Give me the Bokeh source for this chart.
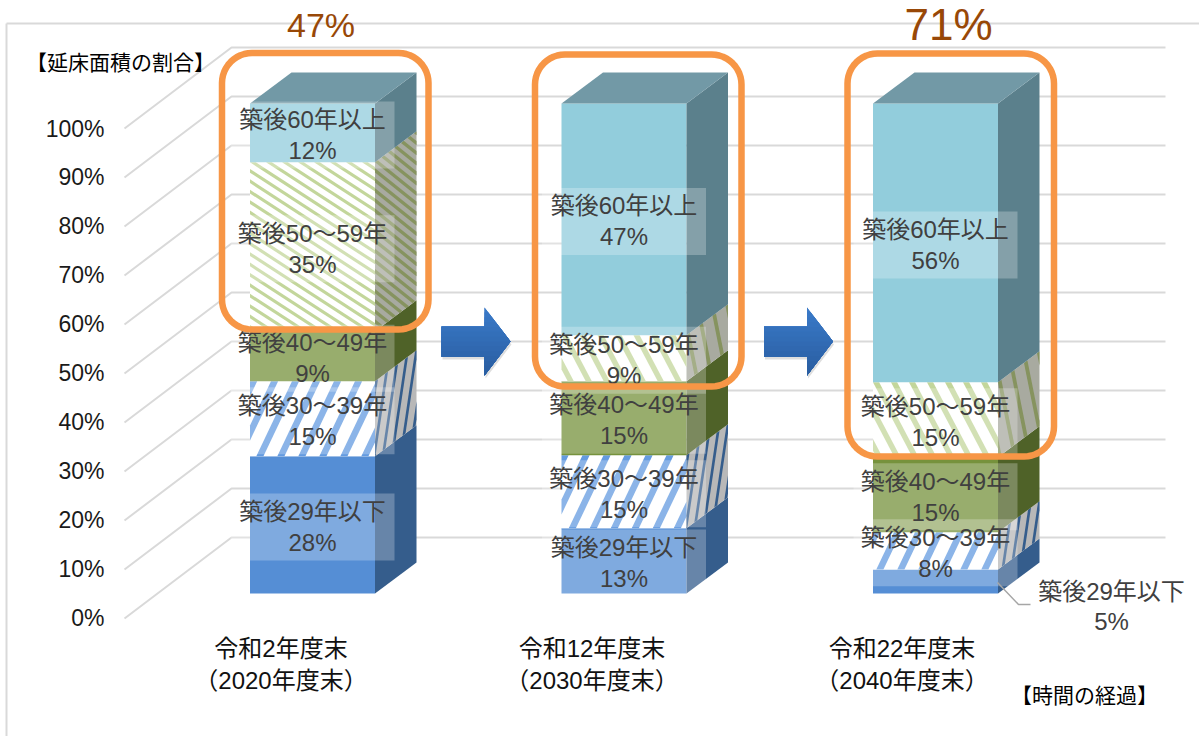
from bokeh.plotting import figure
from bokeh.models import Range1d, LinearAxis, FixedTicker, PrintfTickFormatter
from bokeh.core.properties import value
from bokeh.embed import file_html
from bokeh.resources import INLINE
import math

# ---------- data ----------
periods_line1 = ["令和2年度末", "令和12年度末", "令和22年度末"]
periods_line2 = ["（2020年度末）", "（2030年度末）", "（2040年度末）"]
series_names = ["築後29年以下", "築後30～39年", "築後40～49年", "築後50～59年", "築後60年以上"]
# drawn heights
age_0_29 = [28.0, 13.3, 4.9]
age_30_39 = [15.3, 14.9, 7.6]
age_40_49 = [10.2, 15.1, 15.3]
age_50_59 = [34.5, 9.4, 15.3]
age_60_up = [12.0, 47.3, 56.9]
# printed percent labels
label_0_29 = ["28%", "13%", "5%"]
label_30_39 = ["15%", "15%", "8%"]
label_40_49 = ["9%", "15%", "15%"]
label_50_59 = ["35%", "9%", "15%"]
label_60_up = ["12%", "47%", "56%"]
y_ticks = [0, 10, 20, 30, 40, 50, 60, 70, 80, 90, 100]
headline_text = ["47%", "71%"]

# ---------- page geometry ----------
W, H = 1199, 736
PX_PER_PCT = 4.9
Y0_PX = 593
CAT0_PX = 312
CAT_PX = 311.5
BAR_PX = 125
DEPTH_X, DEPTH_Y = 41.5, 31


def X(px):
    return (px - CAT0_PX) / CAT_PX


def Y(py):
    return (Y0_PX - py) / PX_PER_PCT


def PY(pct):
    return Y0_PX - pct * PX_PER_PCT


FONT = value("Liberation Sans, Noto Sans CJK JP")
p = figure(width=W, height=H, output_backend="svg", toolbar_location=None,
           x_range=Range1d(X(0), X(W)), y_range=Range1d(Y(H), Y(0)),
           min_border=0, outline_line_color=None, background_fill_color="white",
           x_axis_location=None, y_axis_location=None)
p.xgrid.visible = False
p.ygrid.visible = False


def clip(poly, inside, cross):
    out = []
    for i in range(len(poly)):
        a, b = poly[i], poly[(i + 1) % len(poly)]
        ia, ib = inside(a), inside(b)
        if ia:
            out.append(a)
        if ia != ib:
            out.append(cross(a, b))
    return out


def clip_rect(poly, x0, x1, y0, y1):
    def cx(v):
        return lambda a, b: (v, a[1] + (b[1] - a[1]) * (v - a[0]) / (b[0] - a[0]))

    def cy(v):
        return lambda a, b: (a[0] + (b[0] - a[0]) * (v - a[1]) / (b[1] - a[1]), v)
    for ins, cr in [(lambda q: q[0] >= x0, cx(x0)), (lambda q: q[0] <= x1, cx(x1)),
                    (lambda q: q[1] >= y0, cy(y0)), (lambda q: q[1] <= y1, cy(y1))]:
        if not poly:
            return poly
        poly = clip(poly, ins, cr)
    return poly


def stripes(w, h, slope, period, duty):
    d = duty * period
    run = h / slope
    res = []
    c = -abs(run) - d - period * 3
    c = math.floor(c / period) * period
    while c < w + abs(run) + period:
        q = [(c, 0), (c + d, 0), (c + run + d, h), (c + run, h)]
        q = clip_rect(q, 0, w, 0, h)
        if len(q) >= 3:
            res.append(q)
        c += period
    return res


# ---------- walls and grid ----------
p.line([X(6), X(W)], [Y(23), Y(23)], line_color="#d9d9d9", line_width=2)
p.line([X(6), X(6)], [Y(23), Y(H)], line_color="#d9d9d9", line_width=2)
grid_xs, grid_ys = [], []
for t in y_ticks:
    back = PY(t) - 56
    grid_xs.append([X(124), X(231), X(1165)])
    grid_ys.append([Y(back + 81), Y(back), Y(back)])
p.multi_line(grid_xs, grid_ys, line_color="#d9d9d9", line_width=2)

# ---------- axis ----------
p.extra_y_ranges = {"ticks": Range1d((617 - H) / 4.89, 617 / 4.89)}
axis = LinearAxis(y_range_name="ticks", ticker=FixedTicker(ticks=y_ticks),
                  formatter=PrintfTickFormatter(format="%d%%"), fixed_location=X(104),
                  axis_line_color=None, major_tick_line_color=None, minor_tick_line_color=None,
                  major_tick_out=0, major_tick_in=0, major_label_standoff=0,
                  major_label_text_font="Liberation Sans", major_label_text_font_size="23px",
                  major_label_text_color="#1a1a1a")
p.add_layout(axis, "left")

# ---------- bars ----------
stacks = [age_0_29, age_30_39, age_40_49, age_50_59, age_60_up]
labels = [label_0_29, label_30_39, label_40_49, label_50_59, label_60_up]
front_col = ["#558ed5", "#ffffff", "#76923c", "#ffffff", "#92cddc"]
side_col = ["#355d8c", "#b8b8b8", "#4f6228", "#a8aaa0", "#5b808c"]
stripe_front = {1: "#649be0", 3: "#c3d69b"}
stripe_side = {1: "#355d8c", 3: "#86935f"}
bw = BAR_PX / CAT_PX
k = DEPTH_Y / DEPTH_X

box_x, box_top, box_bot = [], [], []
txt = [[], [], [], []]  # x, y, name, pct
for i in range(3):
    xl = CAT0_PX + i * CAT_PX - BAR_PX / 2
    base = 0.0
    for s in range(5):
        v = stacks[s][i]
        top = base + v
        p.quad(left=[i - bw / 2], right=[i + bw / 2], bottom=[base], top=[top],
               fill_color=front_col[s], line_color=None)
        yt, yb = PY(top), PY(base)
        xr = xl + BAR_PX
        p.patch([X(xr), X(xr + DEPTH_X), X(xr + DEPTH_X), X(xr)],
                [Y(yt), Y(yt - DEPTH_Y), Y(yb - DEPTH_Y), Y(yb)],
                fill_color=side_col[s], line_color=None)
        if s in stripe_front:
            h = yb - yt
            if s == 3:
                fs = (0.65, 16, 0.36) if i == 0 else (1.9, 18, 0.34)
                ss = (1.55, 6.5, 0.42) if i == 0 else (5.75, 13, 0.26)
            else:
                fs = (-2.1, 21, 0.34)
                ss = (-6, 10, 0.3)
            qs = stripes(BAR_PX, h, *fs)
            p.patches([[X(xl + a) for a, b in q] for q in qs],
                      [[Y(yt + b) for a, b in q] for q in qs],
                      fill_color=stripe_front[s], line_color=None)
            qs = stripes(DEPTH_X, h, *ss)
            p.patches([[X(xr + a) for a, b in q] for q in qs],
                      [[Y(yt + b - a * k) for a, b in q] for q in qs],
                      fill_color=stripe_side[s], line_color=None)
        mid = (yt + yb) / 2 + 2
        if not (i == 2 and s == 0):
            cx = xl + BAR_PX / 2
            box_x.append(X(cx))
            box_top.append(Y(mid - 33.5))
            box_bot.append(Y(mid + 33.5))
            txt[0].append(X(cx))
            txt[1].append(Y(mid))
            txt[2].append(series_names[s])
            txt[3].append(labels[s][i])
        base = top
    yt = PY(base)
    p.patch([X(xl), X(xl + DEPTH_X), X(xl + BAR_PX + DEPTH_X), X(xl + BAR_PX)],
            [Y(yt), Y(yt - DEPTH_Y), Y(yt - DEPTH_Y), Y(yt)],
            fill_color="#7299a6", line_color=None)

# label backgrounds and text
p.vbar(x=box_x, width=164 / CAT_PX, bottom=box_bot, top=box_top,
       fill_color="white", fill_alpha=0.25, line_color=None)
LAB = dict(text_font=FONT, text_font_size="24px", text_color="#404040",
           text_align="center", text_baseline="middle")
p.text(txt[0], txt[1], text=txt[2], y_offset=-15.5, **LAB)
p.text(txt[0], txt[1], text=txt[3], y_offset=15.5, **LAB)

# outside label for the smallest slice of the last bar
p.line([X(997), X(1018), X(1030)], [Y(582), Y(604), Y(604)], line_color="#a6a6a6", line_width=1.5)
p.text([X(1111)], [Y(591)], text=[series_names[0]], **LAB)
p.text([X(1111)], [Y(621)], text=[label_0_29[2]], **LAB)

# ---------- category labels ----------
CAT = dict(text_font=FONT, text_font_size="24px", text_color="#111111",
           text_align="center", text_baseline="middle")
cat_x = [X(280.5), X(591.5), X(901.5)]
p.text(cat_x, [Y(648)] * 3, text=periods_line1, **CAT)
p.text(cat_x, [Y(680)] * 3, text=periods_line2, **CAT)

# ---------- axis captions ----------
CAP = dict(text_font=FONT, text_color="#000000", text_align="center", text_baseline="middle",
           text_font_style="normal")
p.text([X(120)], [Y(62)], text=["【延床面積の割合】"], text_font_size="21px", **CAP)
p.text([X(1084)], [Y(695)], text=["【時間の経過】"], text_font_size="21px", **CAP)


# ---------- arrows ----------
def arrow(dx):
    poly = [(441, 326), (484, 326), (484, 307), (510, 341), (484, 375), (484, 356), (441, 356)]
    poly = [(a + dx, b) for a, b in poly]
    p.patch([X(a + 1) for a, b in poly], [Y(b + 3) for a, b in poly],
            fill_color="#000000", fill_alpha=0.13, line_color=None)
    p.patch([X(a) for a, b in poly], [Y(b) for a, b in poly], fill_color="#346ebb", line_color=None)
    n = 14
    for j in range(n):
        y0 = 307 + j * 68 / n
        q = clip_rect(poly, 0, W, y0, 375)
        if len(q) < 3:
            continue
        t = j / (n - 1)
        col = "#%02x%02x%02x" % (int(0x3a + (0x2a - 0x3a) * t), int(0x7a + (0x5e - 0x7a) * t),
                                 int(0xc8 + (0xa2 - 0xc8) * t))
        p.patch([X(a) for a, b in q], [Y(b) for a, b in q], fill_color=col, line_color=None)


arrow(0)
arrow(322.5)


# ---------- orange frames ----------
def round_box(x0, x1, y0, y1, r=30):
    xs, ys = [], []
    for cx, cy, a0 in [(x0 + r, y0 + r, 180), (x1 - r, y0 + r, 270), (x1 - r, y1 - r, 0), (x0 + r, y1 - r, 90)]:
        for j in range(13):
            a = math.radians(a0 + j * 7.5)
            xs.append(X(cx + r * math.cos(a)))
            ys.append(Y(cy + r * math.sin(a)))
    p.patch(xs, ys, fill_color=None, line_color="#f79646", line_width=6.5, line_join="round")


round_box(221.5, 428, 52.5, 329)
round_box(534.5, 741, 54, 386)
round_box(847, 1053.5, 53, 456)

# ---------- headline percentages ----------
HEAD = dict(text_font=value("Liberation Sans"), text_color="#984807", text_align="center", text_baseline="middle")
p.text([X(320.5)], [Y(24)], text=[headline_text[0]], text_font_size="34px", **HEAD)
p.text([X(948)], [Y(24)], text=[headline_text[1]], text_font_size="44px", **HEAD)

open("out.html", "w").write(file_html(p, INLINE))
